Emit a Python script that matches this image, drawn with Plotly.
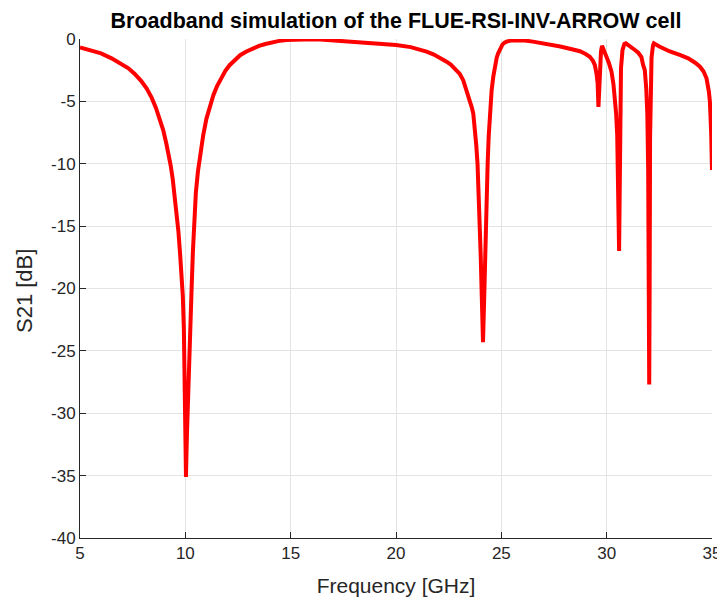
import plotly.graph_objects as go

title_text = "Broadband simulation of the FLUE-RSI-INV-ARROW cell"
x_label = "Frequency [GHz]"
y_label = "S21 [dB]"

freq_ghz = [
    5.0, 5.5, 6.0, 6.5, 7.0, 7.3, 7.6, 7.9, 8.16, 8.4, 8.6, 8.8, 8.95, 9.1, 9.2,
    9.3, 9.4, 9.5, 9.6, 9.67, 9.75, 9.82, 9.88, 9.93, 9.97, 10.0, 10.02, 10.03,
    10.05, 10.08, 10.11, 10.15, 10.19, 10.24, 10.30, 10.36, 10.42, 10.5, 10.6,
    10.7, 10.85, 11.0, 11.15, 11.33, 11.5, 11.7, 11.9, 12.1, 12.35, 12.6, 12.9,
    13.2, 13.5, 13.8, 14.1, 14.4, 14.8, 15.2, 15.6, 16.0, 16.4, 17.0, 17.8,
    18.5, 19.3, 20.0, 20.7, 21.1, 21.45, 21.8, 22.1, 22.4, 22.6, 22.8, 23.03,
    23.19, 23.35, 23.5, 23.6, 23.67, 23.75, 23.81, 23.87, 23.93, 23.98, 24.02,
    24.06, 24.1, 24.13, 24.17, 24.21, 24.27, 24.31, 24.35, 24.4, 24.46, 24.54,
    24.62, 24.7, 24.78, 24.85, 24.95, 25.05, 25.15, 25.25, 25.5, 25.73, 26.1,
    26.5, 27.2, 27.8, 28.3, 28.73, 29.0, 29.2, 29.35, 29.44, 29.52, 29.57,
    29.61, 29.65, 29.68, 29.73, 29.78, 29.85, 29.99, 30.1, 30.23, 30.32, 30.39,
    30.45, 30.50, 30.54, 30.56, 30.59, 30.62, 30.65, 30.68, 30.75, 30.84,
    30.91, 31.05, 31.2, 31.34, 31.5, 31.65, 31.73, 31.81, 31.88, 31.93, 31.97,
    32.0, 32.02, 32.04, 32.06, 32.08, 32.13, 32.2, 32.24, 32.5, 33.0, 33.5,
    33.87, 34.2, 34.43, 34.6, 34.74, 34.85, 34.9, 34.96, 35.0,
]
s21_db = [
    -0.68, -0.9, -1.15, -1.55, -2.0, -2.35, -2.8, -3.35, -3.95, -4.7, -5.5,
    -6.4, -7.3, -8.4, -9.2, -10.1, -11.2, -12.6, -14.2, -15.4, -17.2, -18.8,
    -20.6, -23.2, -26.5, -30.0, -33.5, -35.1, -33.5, -31.5, -29.5, -27.3,
    -25.2, -22.5, -19.9, -17.0, -14.5, -12.3, -10.6, -9.3, -7.7, -6.4, -5.4,
    -4.5, -3.8, -3.1, -2.55, -2.1, -1.65, -1.3, -1.0, -0.75, -0.55, -0.4,
    -0.27, -0.17, -0.09, -0.05, -0.03, -0.02, -0.04, -0.1, -0.2, -0.3, -0.38,
    -0.48, -0.65, -0.8, -1.01, -1.25, -1.5, -1.82, -2.05, -2.35, -2.8, -3.3,
    -4.1, -4.9, -5.5, -6.0, -7.2, -8.5, -10.0, -12.3, -15.0, -17.3, -19.9,
    -22.3, -24.3, -21.8, -18.5, -15.0, -12.3, -10.0, -7.8, -6.0, -4.1, -3.0,
    -2.0, -1.5, -1.15, -0.7, -0.45, -0.3, -0.21, -0.1, -0.08, -0.12, -0.21,
    -0.38, -0.6, -0.8, -0.98, -1.2, -1.42, -1.75, -2.1, -2.8, -3.5, -5.45,
    -3.2, -2.35, -1.0, -0.55, -0.8, -1.42, -1.9, -2.62, -3.6, -4.76, -6.0,
    -7.7, -10.5, -13.0, -17.0, -12.0, -6.0, -2.35, -0.9, -0.4, -0.35, -0.5,
    -0.7, -0.88, -1.1, -1.45, -2.08, -2.5, -4.0, -6.0, -10.4, -20.0, -27.7,
    -20.0, -8.0, -3.7, -1.5, -0.5, -0.35, -0.6, -1.0, -1.3, -1.55, -1.9,
    -2.22, -2.6, -3.15, -4.2, -5.0, -7.5, -10.5,
]
x_ticks = [5, 10, 15, 20, 25, 30, 35]
y_ticks = [0, -5, -10, -15, -20, -25, -30, -35, -40]

FONT = "Liberation Sans, Arial, Helvetica, sans-serif"
AX = "#262626"
GRID = "#e3e3e3"

# page body has an 8px margin; figure size/margins compensate for it
W, H = 717, 592

fig = go.Figure()
fig.add_trace(go.Scatter(
    x=freq_ghz, y=s21_db, mode="lines",
    line=dict(color="#ff0000", width=4), showlegend=False,
))

fig.update_layout(
    width=W, height=H,
    margin=dict(l=72, r=13, t=31, b=62, autoexpand=False),
    paper_bgcolor="white", plot_bgcolor="white",
    font=dict(family=FONT, color=AX, size=17),
    title=dict(text="<b>" + title_text + "</b>", x=388 / W, xanchor="center",
               y=1 - 12 / H, yanchor="middle", automargin=False,
               font=dict(family=FONT, size=21.5, color="black")),
)
fig.update_xaxes(
    range=[5, 35], tickvals=x_ticks, ticktext=[str(v) for v in x_ticks],
    showgrid=True, gridcolor=GRID, gridwidth=1,
    showline=True, linecolor=AX, linewidth=1, automargin=False,
    ticks="inside", ticklen=6, tickcolor=AX, tickwidth=1,
    tickfont=dict(size=17, color=AX), zeroline=False,
    title=dict(text=x_label, font=dict(size=21, color=AX), standoff=15),
)
fig.update_yaxes(
    range=[-40, 0], tickvals=y_ticks, ticktext=[str(v) for v in y_ticks],
    showgrid=True, gridcolor=GRID, gridwidth=1,
    showline=True, linecolor=AX, linewidth=1, automargin=False,
    ticks="inside", ticklen=6, tickcolor=AX, tickwidth=1,
    tickfont=dict(size=17, color=AX), zeroline=False,
)
fig.add_annotation(
    text=y_label, textangle=-90, showarrow=False,
    xref="paper", yref="paper", x=(17 - 72) / 632, y=0.495,
    xanchor="center", yanchor="middle",
    font=dict(family=FONT, size=22, color=AX),
)

fig.write_html("out.html")
